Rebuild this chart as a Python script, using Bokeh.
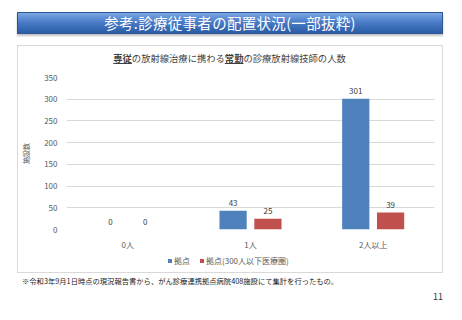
from bokeh.plotting import figure
from bokeh.models import (FactorRange, Range1d, ColumnDataSource, Div)
from bokeh.layouts import column, row
from bokeh.transform import dodge
from bokeh.core.properties import value
from bokeh.embed import file_html
from bokeh.resources import INLINE

# ---- data ----
categories = ["0人", "1人", "2人以上"]
series_names = ["拠点", "拠点(300人以下医療圏)"]
kyoten = [0, 43, 301]
kyoten_small = [0, 25, 39]
y_ticks = [0, 50, 100, 150, 200, 250, 300, 350]

banner_text = "参考:診療従事者の配置状況(一部抜粋)"
title_html = ("<b><u>専従</u></b>の放射線治療に携わる<b><u>常勤</u></b>の診療放射線技師の人数")
y_label = "施設数"
footnote = "※令和3年9月1日時点の現況報告書から、がん診療連携拠点病院408施設にて集計を行ったもの。"
page_no = "11"

FONT = "Noto Sans CJK JP"
BLUE = "#4f81bd"
RED = "#c0504d"
GREY = "#d9d9d9"
colors = [BLUE, RED]

W, H = 462, 320
BOX_L, BOX_R, BOX_T, BOX_B = 17, 442, 45, 272
HEAD_H = 67
FIG_B = 252
FRAME_T, FRAME_B, FRAME_L, FRAME_R = 77, 229, 64, 434

# ---------- header (banner + top of chart box + chart title) ----------
header_html = f"""
<div style="position:relative;width:{W}px;height:{HEAD_H}px;font-family:'{FONT}';">
  <div style="position:absolute;left:{BOX_L}px;top:12px;width:426px;height:22px;
       background:linear-gradient(to bottom,#7aa8e4 0%,#4a7cc8 45%,#2b5ca6 100%);
       border:1px solid #2f5597;box-sizing:border-box;box-shadow:0 2px 2px rgba(0,0,0,0.25);
       color:white;font-size:14.5px;line-height:20px;text-align:center;white-space:nowrap;letter-spacing:0.3px;">{banner_text}</div>
  <div style="position:absolute;left:{BOX_L}px;top:{BOX_T}px;width:{BOX_R - BOX_L + 1}px;height:1px;background:{GREY};"></div>
  <div style="position:absolute;left:{BOX_L}px;top:{BOX_T}px;width:1px;height:{HEAD_H - BOX_T}px;background:{GREY};"></div>
  <div style="position:absolute;left:{BOX_R}px;top:{BOX_T}px;width:1px;height:{HEAD_H - BOX_T}px;background:{GREY};"></div>
  <div style="position:absolute;left:{BOX_L}px;top:51px;width:{BOX_R - BOX_L}px;height:14px;
       font-size:9.3px;line-height:14px;text-align:center;color:#404040;white-space:nowrap;">{title_html}</div>
</div>
"""
header = Div(text=header_html, width=W, height=HEAD_H, margin=0)

# ---------- chart ----------
FIG_L = BOX_L + 1
FIG_W = BOX_R - FIG_L
FIG_H = FIG_B - HEAD_H

src = ColumnDataSource(dict(cat=categories, a=kyoten, b=kyoten_small,
                            at=[str(v) for v in kyoten], bt=[str(v) for v in kyoten_small]))

p = figure(width=FIG_W, height=FIG_H, x_range=FactorRange(factors=categories, range_padding=0),
           y_range=Range1d(0, 350), output_backend="svg", toolbar_location=None,
           min_border_left=FRAME_L - FIG_L, min_border_right=FIG_L + FIG_W - FRAME_R,
           min_border_top=FRAME_T - HEAD_H, min_border_bottom=FIG_B - FRAME_B, margin=0)
p.outline_line_color = None
p.background_fill_color = "white"
p.border_fill_color = "white"

OFF = 0.142
BW = 0.222
p.vbar(x=dodge("cat", -OFF, range=p.x_range), top="a", width=BW, source=src,
       fill_color=BLUE, line_color=None)
p.vbar(x=dodge("cat", OFF, range=p.x_range), top="b", width=BW, source=src,
       fill_color=RED, line_color=None)
p.text(x=dodge("cat", -OFF, range=p.x_range), y="a", text="at", source=src,
       text_align="center", text_baseline="bottom", y_offset=-5,
       text_font=value(FONT), text_font_size="8px", text_color="#404040")
p.text(x=dodge("cat", OFF, range=p.x_range), y="b", text="bt", source=src,
       text_align="center", text_baseline="bottom", y_offset=-5,
       text_font=value(FONT), text_font_size="8px", text_color="#404040")

for ax in (p.xaxis, p.yaxis):
    ax.axis_line_color = None
    ax.major_tick_line_color = None
    ax.minor_tick_line_color = None
    ax.major_tick_out = 0
    ax.major_tick_in = 0
    ax.minor_tick_out = 0
    ax.minor_tick_in = 0
    ax.major_label_text_font = FONT
    ax.major_label_text_font_size = "8px"
    ax.major_label_text_color = "#595959"

p.yaxis.ticker = y_ticks
p.yaxis.major_label_standoff = 9
p.yaxis.axis_label = y_label
p.yaxis.axis_label_text_font = FONT
p.yaxis.axis_label_text_font_size = "7px"
p.yaxis.axis_label_text_font_style = "normal"
p.yaxis.axis_label_text_color = "#595959"
p.yaxis.axis_label_standoff = 10
p.xaxis.major_label_standoff = 9
p.xgrid.grid_line_color = None
p.ygrid.grid_line_color = GREY

def vline(h):
    return Div(text="", width=1, height=h, margin=0, styles={"background-color": GREY})

def blank(w, h):
    return Div(text="", width=w, height=h, margin=0)

middle = row(blank(BOX_L, FIG_H), vline(FIG_H), p, vline(FIG_H), blank(W - BOX_R - 1, FIG_H),
             spacing=0, margin=0)

# ---------- footer: legend, bottom of box, footnote, page number ----------
FOOT_H = H - FIG_B
box_h = BOX_B - FIG_B
leg_items = "".join(
    f'<span style="display:inline-block;width:4px;height:4px;background:{c};margin-right:2px;vertical-align:middle;"></span>'
    f'<span style="margin-right:10px;vertical-align:middle;">{name}</span>'
    for name, c in zip(series_names, colors))
footer_html = f"""
<div style="position:relative;width:{W}px;height:{FOOT_H}px;font-family:'{FONT}';">
  <div style="position:absolute;left:{BOX_L}px;top:0px;width:1px;height:{box_h}px;background:{GREY};"></div>
  <div style="position:absolute;left:{BOX_R}px;top:0px;width:1px;height:{box_h}px;background:{GREY};"></div>
  <div style="position:absolute;left:{BOX_L}px;top:{box_h}px;width:{BOX_R - BOX_L + 1}px;height:1px;background:{GREY};"></div>
  <div style="position:absolute;left:168px;top:2px;height:12px;font-size:8px;line-height:12px;color:#595959;white-space:nowrap;">{leg_items}</div>
  <div style="position:absolute;left:22px;top:{281 - FIG_B - 6}px;height:12px;font-size:7.3px;line-height:12px;color:#1a1a1a;white-space:nowrap;">{footnote}</div>
  <div style="position:absolute;left:428px;top:{297 - FIG_B - 6}px;width:20px;height:12px;font-size:9px;line-height:12px;color:#333333;text-align:center;">{page_no}</div>
</div>
"""
footer = Div(text=footer_html, width=W, height=FOOT_H, margin=0)

layout = column(header, middle, footer, spacing=0, margin=0)

open("out.html", "w").write(file_html(layout, INLINE))
